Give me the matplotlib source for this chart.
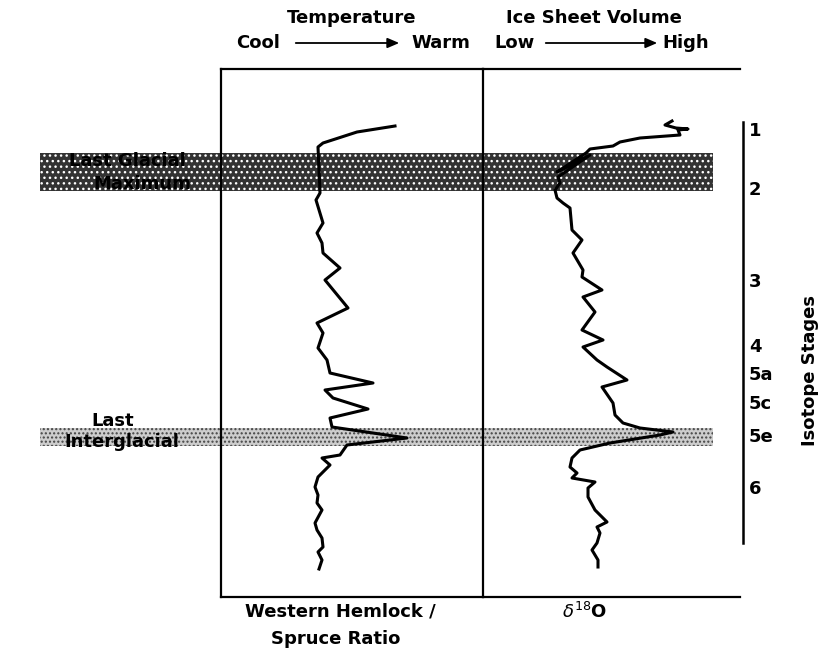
import matplotlib
matplotlib.use('Agg')
from matplotlib import pyplot as plt
from matplotlib.patches import Rectangle, FancyArrowPatch
from matplotlib.transforms import blended_transform_factory

# western hemlock / spruce ratio (relative units) against core depth
hemlock_depth = [57, 63, 74, 78, 101, 124, 131, 154, 164, 174, 184, 199, 211,
	239, 254, 264, 279, 291, 304, 314, 321, 329, 340, 349, 358, 369, 376, 386,
	389, 396, 408, 418, 426, 434, 441, 454, 461, 469, 478, 483, 491, 500]
hemlock_ratio = [174, 136, 102, 97, 98, 99, 95, 102, 96, 101, 102, 119, 104,
	127, 96, 102, 97, 106, 109, 152, 104, 112, 147, 109, 111, 186, 126, 119,
	101, 109, 97, 94, 97, 96, 101, 94, 96, 101, 102, 97, 101, 98]

# delta 18O (relative units) against core depth
d18o_depth = [52, 56, 59, 60, 61, 66, 69, 73, 77, 80, 84, 103, 99, 86, 108,
	114, 121, 129, 134, 139, 161, 171, 184, 201, 208, 221, 228, 243, 261, 271,
	278, 291, 298, 311, 318, 334, 346, 354, 359, 363, 366, 374, 381, 389, 398,
	404, 409, 413, 419, 428, 441, 453, 458, 464, 474, 481, 491, 498]
d18o_value = [189, 182, 193, 205, 195, 197, 157, 137, 130, 107, 103, 74, 82,
	107, 75, 77, 72, 74, 80, 87, 89, 99, 90, 100, 99, 119, 100, 112, 99, 120,
	100, 114, 124, 144, 119, 130, 132, 140, 157, 190, 177, 127, 97, 89, 87, 94,
	89, 112, 105, 105, 112, 124, 114, 117, 114, 109, 115, 115]

stage_labels = ['1', '2', '3', '4', '5a', '5c', '5e', '6']
stage_depth = [62, 121, 213, 278, 306, 335, 368, 420]
stage_bar = (53, 474)

lgm_band = (84, 122)
interglacial_band = (359, 377)

W, H = 829, 657
depth_max = 528

plt.rcParams['font.family'] = ['DejaVu Sans']
fig = plt.figure(figsize=(W / 100, H / 100), dpi=100)

def fx(px):
	return px / W

def fy(py):
	return 1 - py / H

ax1 = fig.add_axes([fx(221), fy(597), (483 - 221) / W, depth_max / H])
ax2 = fig.add_axes([fx(483), fy(597), (740 - 483) / W, depth_max / H])
ax2.patch.set_alpha(0)
for ax, xmax in ((ax1, 262), (ax2, 257)):
	ax.set_xlim(0, xmax)
	ax.set_ylim(depth_max, 0)
	ax.set_xticks([])
	ax.set_yticks([])
	for s in ax.spines.values():
		s.set_linewidth(1.6)
ax2.spines['left'].set_visible(False)
ax2.spines['right'].set_visible(False)

# stippled bands across both panels
band_tr = blended_transform_factory(fig.transFigure, ax1.transData)
ax1.add_patch(Rectangle((fx(40), lgm_band[0]), fx(713) - fx(40),
	lgm_band[1] - lgm_band[0], transform=band_tr, clip_on=False, zorder=0.5,
	facecolor='#333333', edgecolor='white', hatch='...', lw=0))
ax1.add_patch(Rectangle((fx(40), interglacial_band[0]), fx(713) - fx(40),
	interglacial_band[1] - interglacial_band[0], transform=band_tr,
	clip_on=False, zorder=0.5, facecolor='#cdcdcd', edgecolor='#444444',
	hatch='....', lw=0))

ax1.plot(hemlock_ratio, hemlock_depth, color='black', lw=2.2, zorder=3)
ax2.plot(d18o_value, d18o_depth, color='black', lw=2.2, zorder=3)

# isotope stage scale
ax2.plot([260, 260], stage_bar, color='black', lw=1.8, clip_on=False)
for lab, d in zip(stage_labels, stage_depth):
	ax2.text(266, d, lab, ha='left', va='center', fontsize=13,
		fontweight='bold', clip_on=False)
fig.text(fx(810), fy(370), 'Isotope Stages', rotation=90, ha='center',
	va='center', fontsize=13, fontweight='bold')

# headers
bold = dict(fontsize=13, fontweight='bold', ha='center', va='center')
fig.text(fx(352), fy(18), 'Temperature', **bold)
fig.text(fx(258), fy(43), 'Cool', **bold)
fig.text(fx(441), fy(43), 'Warm', **bold)
fig.text(fx(594), fy(18), 'Ice Sheet Volume', **bold)
fig.text(fx(515), fy(43), 'Low', **bold)
fig.text(fx(686), fy(43), 'High', **bold)
for x0, x1 in ((293, 402), (543, 660)):
	fig.add_artist(FancyArrowPatch(
		(fx(x0), fy(43)), (fx(x1), fy(43)), transform=fig.transFigure,
		arrowstyle='-|>,head_length=7,head_width=3', lw=1.3, color='black'))

# band labels
fig.text(fx(127), fy(161), 'Last Glacial', **bold)
fig.text(fx(142), fy(184), 'Maximum', **bold)
fig.text(fx(113), fy(421), 'Last', **bold)
fig.text(fx(122), fy(442), 'Interglacial', **bold)

# bottom labels
fig.text(fx(340), fy(612), 'Western Hemlock /', **bold)
fig.text(fx(336), fy(639), 'Spruce Ratio', **bold)
fig.text(fx(585), fy(612), r'$\delta^{18}$O', **bold)

fig.savefig('out.png', dpi=100)
